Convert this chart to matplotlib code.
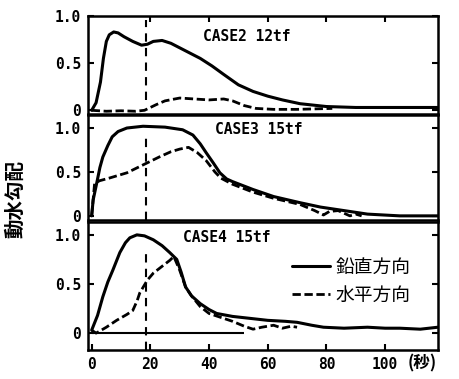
import matplotlib.pyplot as plt

plt.rcParams['font.family'] = ['Noto Sans CJK JP', 'DejaVu Sans']

# CASE2 12tf
t2_v = [0, 1.5, 3, 4, 5, 6, 7.5, 9, 11, 14, 17, 19, 21, 24, 27, 32, 37, 41, 45, 50, 55, 60, 65, 71, 80, 90, 118]
h2_v = [0, 0.08, 0.3, 0.55, 0.73, 0.8, 0.83, 0.82, 0.78, 0.73, 0.69, 0.70, 0.73, 0.74, 0.71, 0.63, 0.55, 0.47, 0.38, 0.27, 0.2, 0.15, 0.11, 0.07, 0.04, 0.03, 0.03]
t2_h = [0, 5, 10, 15, 18, 20, 22, 25, 30, 35, 40, 45, 48, 52, 56, 62, 70, 82]
h2_h = [0, -0.01, -0.005, -0.01, 0, 0.03, 0.06, 0.1, 0.13, 0.12, 0.11, 0.12, 0.1, 0.05, 0.02, 0.01, 0.01, 0.02]

# CASE3 15tf
t3_v = [0, 0.5, 1.7, 2.8, 3.8, 5.5, 7, 9, 12, 17.5, 25, 31, 34.5, 37, 39, 41.5, 43.7, 46, 48, 55, 62, 71, 78, 88, 94, 105, 118]
h3_v = [0, 0.18, 0.37, 0.55, 0.67, 0.8, 0.9, 0.96, 1.0, 1.02, 1.01, 0.98, 0.92, 0.82, 0.72, 0.6, 0.49, 0.42, 0.39, 0.3, 0.22, 0.15, 0.1, 0.05, 0.02, 0.0, 0.0]
t3_h = [0, 1, 2.7, 6, 12, 17.5, 23, 27, 30, 33, 36, 39, 42, 44, 48, 55, 62, 71, 76, 79, 81, 84, 86, 88, 90, 92]
h3_h = [0, 0.37, 0.4, 0.43, 0.49, 0.58, 0.67, 0.73, 0.76, 0.78, 0.72, 0.63, 0.5, 0.43, 0.36, 0.27, 0.2, 0.13, 0.06, 0.01, 0.05, 0.06, 0.03, 0.0, 0.02, 0.0]

# CASE4 15tf
t4_v = [0, 2, 3.8, 5.5, 7.2, 9.6, 11.5, 13, 15.4, 18, 21, 24, 26.6, 29, 30.5, 32, 34, 37, 40, 42.6, 48, 54, 60, 66, 70, 75, 79, 86, 94, 100, 105, 112, 118]
h4_v = [0.03, 0.18, 0.37, 0.52, 0.64, 0.82, 0.92, 0.97, 1.0, 0.99, 0.95, 0.89, 0.82, 0.75, 0.62, 0.47, 0.38, 0.3, 0.24, 0.2, 0.17, 0.15, 0.13, 0.12, 0.11, 0.08, 0.06, 0.05, 0.06, 0.05, 0.05, 0.04, 0.06]
t4_h = [0, 1.5, 2.7, 5, 8.5, 12, 14, 15.5, 16.4, 19, 21, 24, 26.6, 28, 30, 32, 34, 37, 40, 44, 48, 52, 55, 58, 62, 65, 68, 70]
h4_h = [0.03, 0.0, 0.02, 0.06, 0.13, 0.19, 0.23, 0.33, 0.41, 0.54, 0.61, 0.68, 0.74, 0.78, 0.64, 0.47, 0.38, 0.27, 0.2, 0.16, 0.12, 0.07, 0.04, 0.06, 0.08, 0.05, 0.07, 0.06]

cases = ['CASE2 12tf', 'CASE3 15tf', 'CASE4 15tf']
yticks = [0, 0.5, 1.0]
ytick_labels = ['0', '0.5', '1.0']
xticks = [0, 20, 40, 60, 80, 100]
t_mark = 18.5

mono = dict(fontfamily='DejaVu Sans Mono', fontweight='bold', fontsize=10.5)

fig = plt.figure(figsize=(4.6, 3.79), dpi=100)
left, width = 0.191, 0.761
ax1 = fig.add_axes([left, 0.699, width, 0.259])
ax2 = fig.add_axes([left, 0.420, width, 0.277])
ax3 = fig.add_axes([left, 0.077, width, 0.337])

panels = [
    (ax1, t2_v, h2_v, t2_h, h2_h, (-0.04, 1.0), (38, 0.78), (0.14, 0.96)),
    (ax2, t3_v, h3_v, t3_h, h3_h, (-0.045, 1.15), (42, 0.98), (0.0, 0.78)),
    (ax3, t4_v, h4_v, t4_h, h4_h, (-0.17, 1.13), (31, 0.97), (0.0, 0.80)),
]

for i, (ax, tv, hv, th, hh, ylim, txt, vspan) in enumerate(panels):
    l1, = ax.plot(tv, hv, color='black', lw=2.2, solid_capstyle='round')
    l2, = ax.plot(th, hh, color='black', lw=2.0, linestyle=(0, (3, 1.3)))
    ax.axvline(t_mark, ymin=vspan[0], ymax=vspan[1], color='black', lw=1.5,
               linestyle=(0, (4, 3)))
    ax.set_xlim(-1.3, 118)
    ax.set_ylim(*ylim)
    ax.set_yticks(yticks, ytick_labels, **mono)
    ax.text(txt[0], txt[1], cases[i], ha='left', va='center', **mono)
    for s in ax.spines.values():
        s.set_linewidth(1.8)
    ax.tick_params(axis='y', direction='in', length=4, width=1.5, right=True, pad=5)
    if i == 0:
        ax.set_xticks(xticks[1:])
        ax.tick_params(axis='x', direction='in', length=4, width=1.5, top=True,
                       bottom=False, labelbottom=False)
    elif i == 1:
        ax.set_xticks([])
    else:
        ax.set_xticks(xticks, [str(x) for x in xticks], **mono)
        ax.tick_params(axis='x', direction='in', length=4, width=1.5, pad=5)
        ax.hlines(0, 0, 52, color='black', lw=1.5)
        ax.text(112.5, -0.31, '(秒)', ha='center', va='center', fontsize=12,
                fontweight='bold')
        ax.legend([l1, l2], ['鉛直方向', '水平方向'], loc='upper right',
                  bbox_to_anchor=(0.97, 0.86), frameon=False, fontsize=13.5,
                  handlelength=2.0, handletextpad=0.3, labelspacing=0.35)

fig.text(0.035, 0.475, '動水勾配', rotation=90, ha='center', va='center',
         fontsize=14, fontweight='bold')

fig.savefig('out.png', dpi=100)
